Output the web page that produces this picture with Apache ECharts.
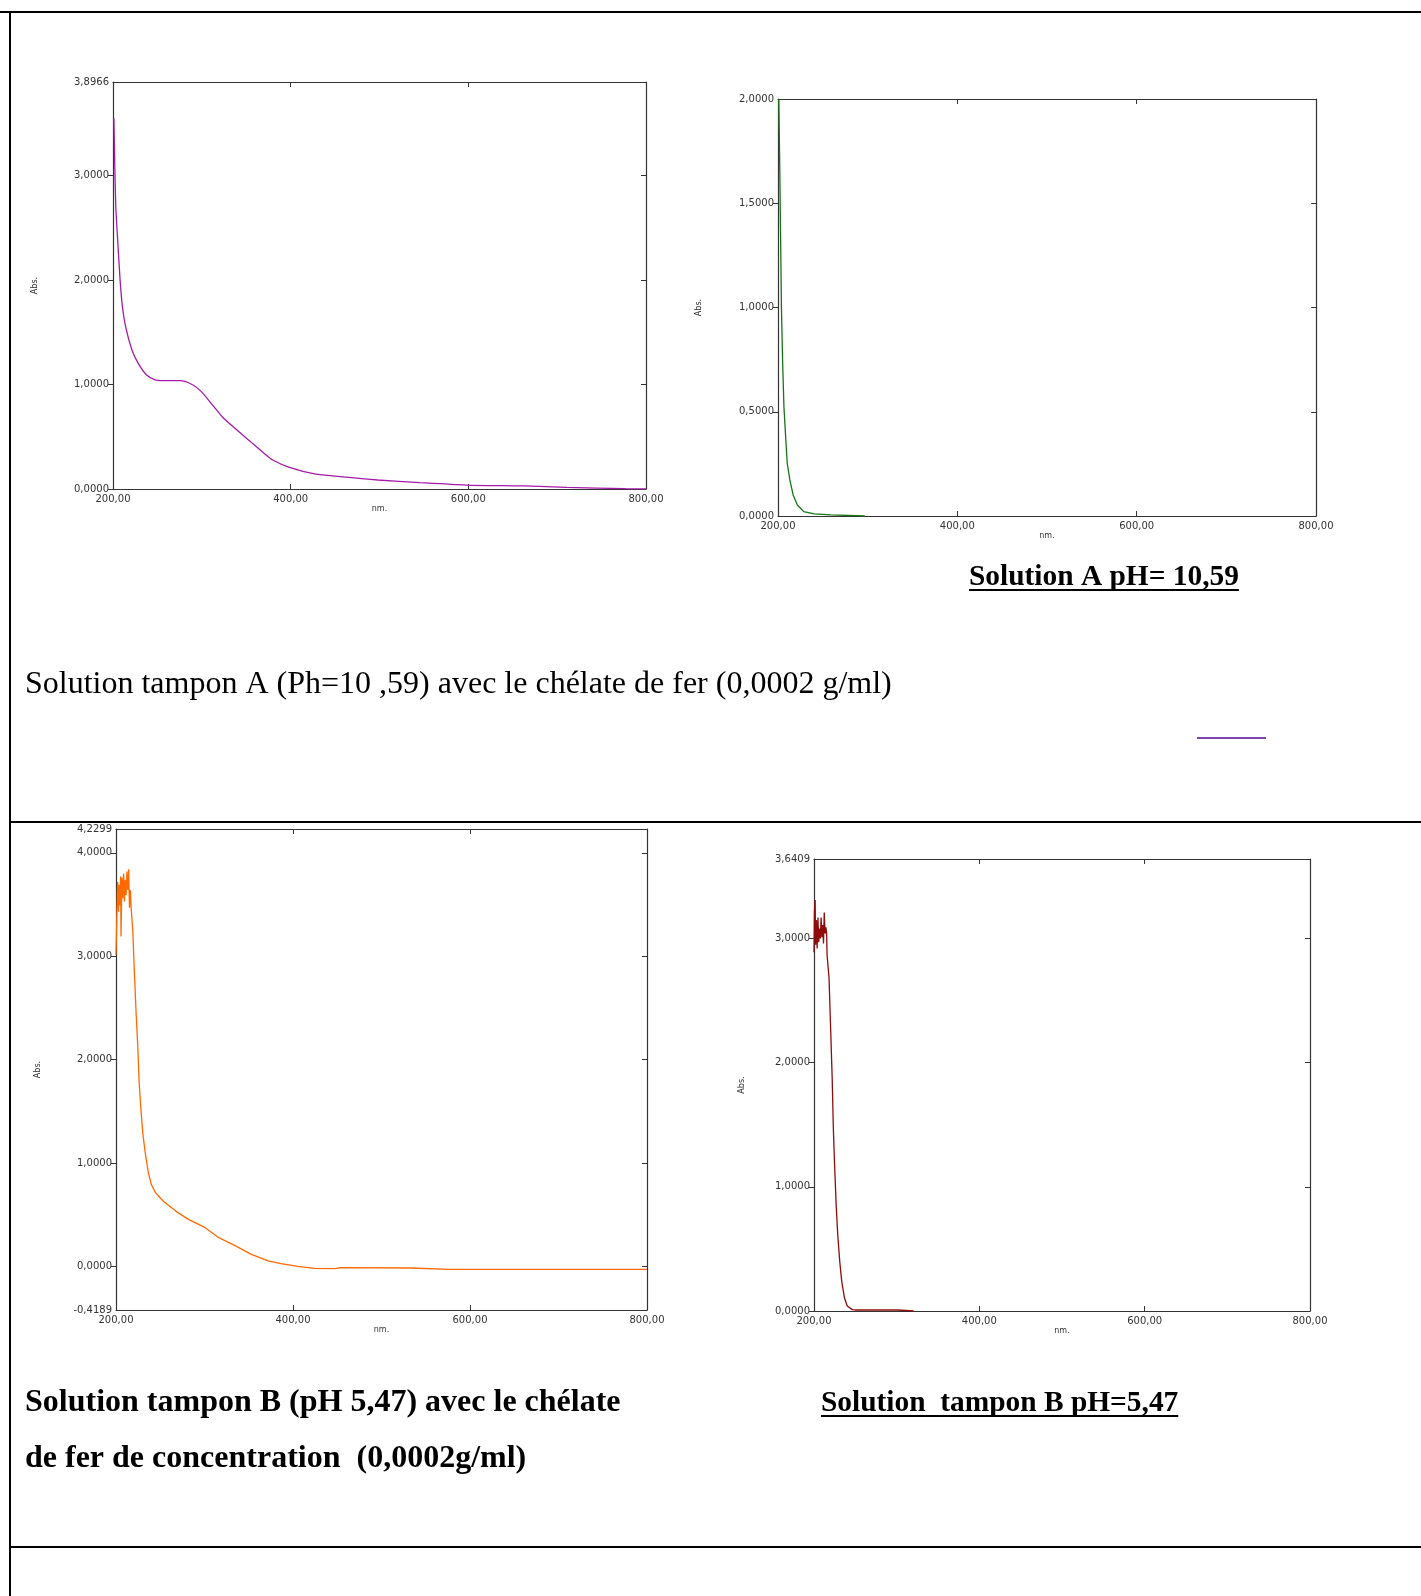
<!DOCTYPE html>
<html>
<head>
<meta charset="utf-8">
<title>Spectres UV-Visible</title>
<script src="https://cdn.jsdelivr.net/npm/echarts@6/dist/echarts.min.js"></script>
<style>
  html, body { margin: 0; padding: 0; background: #fff; }
  #page { width: 1421px; height: 1596px; }
</style>
</head>
<body>
<div id="page"></div>
<script>
// Spectre 1 : solution tampon A + chélate de fer
const wlTamponA = [201, 203, 205.7, 208, 210.4, 214.2, 221.3, 228.4, 237.9, 247.3, 256.8, 275.7, 290, 299.4, 313.6, 323, 337.2, 356, 370.3, 379.8, 398.7, 427, 455.5, 498, 545.4, 597.5, 663.7, 711, 777, 800];
const absTamponA = [3.549, 2.735, 2.32, 2.0, 1.762, 1.554, 1.331, 1.203, 1.091, 1.044, 1.037, 1.037, 0.996, 0.932, 0.788, 0.692, 0.581, 0.444, 0.341, 0.278, 0.207, 0.144, 0.118, 0.086, 0.061, 0.038, 0.029, 0.016, 0.003, 0.0];

// Spectre 2 : solution A seule
const wlSolA = [200.9, 201.9, 202.8, 203.8, 205.2, 206.6, 208.5, 210.3, 213.2, 216.9, 221.6, 228.7, 240.4, 259.2, 296.9];
const absSolA = [2.0, 1.693, 1.373, 1.005, 0.733, 0.525, 0.381, 0.253, 0.173, 0.101, 0.053, 0.021, 0.010, 0.005, 0.0];

// Spectre 3 : solution tampon B + chélate de fer
const wlTamponB = [200, 201, 201.9, 202.9, 203.3, 204.3, 205.2, 205.7, 206.7, 207.6, 208.6, 209.5, 210.5, 211.4, 212.4, 213.3, 214.3, 215.2, 216.2, 217.1, 219, 220.9, 222.8, 224.7, 226.1, 228, 230.4, 233.3, 236.6, 239.9, 244.7, 253.2, 267.5, 281.8, 300.8, 315, 334, 353, 372, 386.4, 405.4, 424.4, 448, 453, 533.7, 576.5, 800];
const absTamponB = [3.015, 3.40, 3.72, 3.43, 3.69, 3.49, 3.77, 3.19, 3.76, 3.56, 3.80, 3.53, 3.74, 3.59, 3.82, 3.64, 3.84, 3.47, 3.64, 3.47, 3.24, 2.82, 2.44, 2.11, 1.79, 1.535, 1.28, 1.085, 0.907, 0.795, 0.714, 0.634, 0.537, 0.457, 0.377, 0.286, 0.206, 0.119, 0.055, 0.029, 0.003, -0.016, -0.019, -0.010, -0.013, -0.026, -0.026];

// Spectre 4 : solution tampon B seule
const wlSolB = [200, 200.5, 201.4, 201.9, 202.9, 203.8, 204.8, 205.7, 206.7, 207.7, 208.6, 209.6, 210.5, 211.5, 212.4, 213.4, 214.4, 215.3, 215.8, 218.2, 220.1, 222, 223.4, 224.9, 226.8, 228.7, 231.1, 233.5, 236.8, 240.2, 246.4, 251.2, 301.4, 320.6];
const absSolB = [2.89, 3.21, 3.31, 2.95, 3.15, 2.92, 3.17, 2.97, 3.08, 3.00, 3.17, 3.01, 3.11, 2.96, 3.21, 3.04, 3.09, 3.04, 2.87, 2.68, 2.28, 1.875, 1.47, 1.18, 0.857, 0.616, 0.402, 0.241, 0.107, 0.040, 0.011, 0.008, 0.008, 0.0];

// Graduations
const xTickLabels = [200, 400, 600, 800];
const xTickMarks = [400, 600];
const yLabels1 = [0, 1, 2, 3, 3.8966];
const yTicks1 = [0, 1, 2, 3];
const yLabels2 = [0, 0.5, 1, 1.5, 2];
const yTicks2 = [0.5, 1, 1.5];
const yLabels3 = [-0.4189, 0, 1, 2, 3, 4, 4.2299];
const yTicks3 = [0, 1, 2, 3, 4];
const yLabels4 = [0, 1, 2, 3, 3.6409];
const yTicks4 = [0, 1, 2, 3];

const zip = (xs, ys) => xs.map((x, i) => [x, ys[i]]);
const fmtX = v => v.toFixed(2).replace('.', ',');
const fmtY = v => v.toFixed(4).replace('.', ',');

const frameColor = '#333';
const tickFont = { fontSize: 10, fontFamily: 'DejaVu Sans', color: '#333' };

const grids = [
  { left: 113, top: 82, width: 533, height: 407 },
  { left: 778, top: 99, width: 538, height: 417 },
  { left: 116, top: 829, width: 531, height: 481 },
  { left: 814, top: 859, width: 496, height: 452 }
];
const yRanges = [[0, 3.8966], [0, 2], [-0.4189, 4.2299], [0, 3.6409]];
const yLabelSets = [yLabels1, yLabels2, yLabels3, yLabels4];
const yTickSets = [yTicks1, yTicks2, yTicks3, yTicks4];
const absNameGaps = [74, 75, 74, 68];
const nmNameGaps = [11, 12, 15, 15];

const xAxes = [];
const yAxes = [];
grids.forEach((g, i) => {
  xAxes.push({
    type: 'value', gridIndex: i, position: 'bottom', min: 200, max: 800,
    name: 'nm.', nameLocation: 'middle', nameGap: nmNameGaps[i],
    nameTextStyle: { fontSize: 8, fontFamily: 'DejaVu Sans', color: '#333' },
    axisLine: { show: true, onZero: false, lineStyle: { color: frameColor, width: 1.2 } },
    axisTick: { show: true, inside: true, length: 5, customValues: xTickMarks, lineStyle: { color: frameColor } },
    axisLabel: { show: true, customValues: xTickLabels, margin: 5, formatter: fmtX, ...tickFont },
    splitLine: { show: false }
  });
  xAxes.push({
    type: 'value', gridIndex: i, position: 'top', min: 200, max: 800,
    axisLine: { show: true, onZero: false, lineStyle: { color: frameColor, width: 1.2 } },
    axisTick: { show: true, inside: true, length: 5, customValues: xTickMarks, lineStyle: { color: frameColor } },
    axisLabel: { show: false },
    splitLine: { show: false }
  });
  yAxes.push({
    type: 'value', gridIndex: i, position: 'left', min: yRanges[i][0], max: yRanges[i][1],
    name: 'Abs.', nameLocation: 'middle', nameRotate: 90, nameGap: absNameGaps[i],
    nameTextStyle: { fontSize: 8, fontFamily: 'DejaVu Sans', color: '#333' },
    axisLine: { show: true, onZero: false, lineStyle: { color: frameColor, width: 1.2 } },
    axisTick: { show: true, inside: false, length: 5, customValues: yTickSets[i], lineStyle: { color: frameColor } },
    axisLabel: { show: true, customValues: yLabelSets[i], margin: 4, formatter: fmtY, ...tickFont },
    splitLine: { show: false }
  });
  yAxes.push({
    type: 'value', gridIndex: i, position: 'right', min: yRanges[i][0], max: yRanges[i][1],
    axisLine: { show: true, onZero: false, lineStyle: { color: frameColor, width: 1.2 } },
    axisTick: { show: true, inside: true, length: 5, customValues: yTickSets[i], lineStyle: { color: frameColor } },
    axisLabel: { show: false },
    splitLine: { show: false }
  });
});

const spectra = [
  { name: 'Tampon A + chélate', wl: wlTamponA, abs: absTamponA, color: '#A61AA8', smooth: 0.25 },
  { name: 'Solution A', wl: wlSolA, abs: absSolA, color: '#157515', smooth: false },
  { name: 'Tampon B + chélate', wl: wlTamponB, abs: absTamponB, color: '#FF6A00', smooth: false },
  { name: 'Solution B', wl: wlSolB, abs: absSolB, color: '#8E0C0C', smooth: false }
];

const series = spectra.map((s, i) => ({
  name: s.name,
  type: 'line',
  xAxisIndex: i * 2,
  yAxisIndex: i * 2,
  data: zip(s.wl, s.abs),
  showSymbol: false,
  symbol: 'none',
  smooth: s.smooth,
  clip: true,
  lineStyle: { color: s.color, width: 1.3 },
  animation: false
}));

// Texte et mise en page du tableau
const serif = '"Liberation Serif", "Times New Roman", serif';
const measure = (() => {
  const ctx = document.createElement('canvas').getContext('2d');
  return (text, font) => { ctx.font = font; return ctx.measureText(text).width; };
})();

const fontRegular = '32px ' + serif;
const fontBold = 'bold 32px ' + serif;
const fontTitle = 'bold 29.4px ' + serif;
const titleA = 'Solution A pH= 10,59';
const titleB = 'Solution  tampon B pH=5,47';
const wTitleA = measure(titleA, fontTitle);
const wTitleB = measure(titleB, fontTitle);

const tableLine = (x1, y1, x2, y2, w) => ({
  type: 'line', silent: true,
  shape: { x1, y1, x2, y2 },
  style: { stroke: '#000', lineWidth: w }
});
const label = (text, x, y, font) => ({
  type: 'text', silent: true,
  style: { text, x, y, font, fill: '#000', align: 'left', verticalAlign: 'middle' }
});

const graphics = [
  tableLine(0, 12, 1421, 12, 2),
  tableLine(10, 12, 10, 1596, 2),
  tableLine(10, 822, 1421, 822, 2),
  tableLine(10, 1547, 1421, 1547, 2),
  label(titleA, 969, 577, fontTitle),
  tableLine(969, 590, 969 + wTitleA, 590, 2),
  label('Solution tampon A (Ph=10 ,59) avec le chélate de fer (0,0002 g/ml)', 25, 685, fontRegular),
  {
    type: 'line', silent: true,
    shape: { x1: 1197, y1: 738, x2: 1266, y2: 738 },
    style: { stroke: '#7B45B5', lineWidth: 1.8 }
  },
  label('Solution tampon B (pH 5,47) avec le chélate', 25, 1403, fontBold),
  label('de fer de concentration  (0,0002g/ml)', 25, 1459, fontBold),
  label(titleB, 821, 1403, fontTitle),
  tableLine(821, 1416, 821 + wTitleB, 1416, 2)
];

const chart = echarts.init(document.getElementById('page'), null, { renderer: 'canvas' });
chart.setOption({
  animation: false,
  backgroundColor: '#fff',
  grid: grids.map(g => ({ ...g, containLabel: false })),
  xAxis: xAxes,
  yAxis: yAxes,
  series,
  graphic: { elements: graphics }
});
</script>
</body>
</html>
